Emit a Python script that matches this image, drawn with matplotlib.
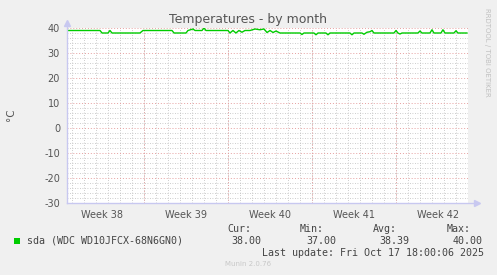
import matplotlib
matplotlib.use("Agg")
import matplotlib.pyplot as plt
import numpy as np

W, H = 497, 275

# ---- data (days since start of graph, temperature in °C) ----
days = [0, 2.75, 2.92, 3.42, 3.58, 3.75, 6.08, 6.33, 8.75, 8.92, 9.92, 10.08, 10.5, 10.67,
        11.25, 11.42, 11.58, 13.42, 13.58, 13.83, 14.08, 14.33, 14.58, 14.83, 15.25, 15.67,
        16.08, 16.42, 16.67, 16.92, 17.17, 17.42, 17.75, 19.42, 19.58, 19.75, 20.58, 20.75,
        20.92, 21.58, 21.75, 21.92, 23.58, 23.75, 23.92, 24.58, 24.75, 25.0, 25.25, 25.42,
        25.58, 27.25, 27.42, 27.58, 27.75, 27.92, 29.25, 29.42, 29.58, 30.25, 30.42, 30.58,
        31.17, 31.33, 31.5, 32.25, 32.42, 32.58, 33.33]
temps = [39, 39, 38, 38, 39, 38, 38, 39, 39, 38, 38, 39, 39.6, 39,
         39, 40, 39, 39, 38, 39, 38, 39, 38.3, 39, 39, 39.6,
         39.3, 39.6, 38.2, 39, 38.2, 38.8, 38, 38, 37.4, 38, 38, 37.3,
         38, 38, 37.3, 38, 38, 37.3, 38, 38, 37.5, 38.3, 38.5, 39,
         38, 38, 39, 38, 37.6, 38, 38, 38.8, 38, 38, 39.3, 38,
         38, 39.3, 38, 38, 38.9, 38, 38]

week_boundaries = [6.42, 13.42, 20.42, 27.42]
week_centers = [2.92, 9.92, 16.92, 23.92, 30.92]
week_labels = ["Week 38", "Week 39", "Week 40", "Week 41", "Week 42"]
y_ticks = [40, 30, 20, 10, 0, -10, -20, -30]

series_label = "sda (WDC WD10JFCX-68N6GN0)"
cur, vmin, avg, vmax = "38.00", "37.00", "38.39", "40.00"
last_update = "Last update: Fri Oct 17 18:00:06 2025"

fig = plt.figure(figsize=(W / 100, H / 100), dpi=100)
fig.patch.set_facecolor("#F0F0F0")

left, right, top, bottom = 67, 468, 28, 203
ax = fig.add_axes([left / W, 1 - bottom / H, (right - left) / W, (bottom - top) / H])
ax.set_facecolor("white")
ax.set_xlim(0, 33.42)
ax.set_ylim(-30, 40)

# grid
for yv in np.arange(-30, 41, 2):
    if yv % 10 == 0:
        continue
    ax.axhline(yv, color="#bdbdbd", lw=0.6, ls=(0, (1, 2)), zorder=1)
for xv in np.arange(0.42, 33.42, 1.0):
    ax.axvline(xv, color="#bdbdbd", lw=0.6, ls=(0, (1, 2)), zorder=1)
for yv in y_ticks:
    ax.axhline(yv, color="#e6a0a0", lw=0.7, ls=(0, (1, 2)), zorder=2)
for xv in week_boundaries:
    ax.axvline(xv, color="#e6a0a0", lw=0.7, ls=(0, (1, 2)), zorder=2)

ax.plot(days, temps, color="#00CC00", lw=1.0, zorder=5)

for s in ax.spines.values():
    s.set_visible(False)
ax.plot([0, 0], [-30, 41.5], color="#c8c8f0", lw=1, clip_on=False, zorder=6)
ax.plot([0, 34.0], [-30, -30], color="#c8c8f0", lw=1, clip_on=False, zorder=6)
ax.plot([0], [42.2], marker="^", color="#c8c8f0", ms=4, clip_on=False, zorder=6)
ax.plot([34.2], [-30], marker=">", color="#c8c8f0", ms=4, clip_on=False, zorder=6)

ax.set_yticks(y_ticks)
ax.set_yticklabels([str(v) for v in y_ticks])
ax.set_xticks(week_centers)
ax.set_xticklabels(week_labels)
ax.tick_params(axis="both", length=0, labelsize=7, labelcolor="#555555")
ax.tick_params(axis="y", pad=5)
ax.tick_params(axis="x", pad=5)

def ftxt(x, y, s, **kw):
    fig.text(x / W, 1 - y / H, s, **kw)

ftxt(248, 19, "Temperatures - by month", ha="center", va="center", fontsize=9, color="#555555")
ftxt(11, 115, "°C", ha="center", va="center", rotation=90, fontsize=7.5, color="#555555")
ftxt(487, 52, "RRDTOOL / TOBI OETIKER", ha="center", va="center", rotation=-90,
     fontsize=5, color="#c0c0c0")

mono = dict(family="DejaVu Sans Mono", fontsize=7.2, color="#444444", va="center")
fig.patches.append(plt.Rectangle((14 / W, 1 - 243.5 / H), 6 / W, 6 / H, transform=fig.transFigure,
                                 facecolor="#00CC00", edgecolor="none"))
ftxt(27, 240.5, series_label, ha="left", **mono)
for xh, xv, head, val in [(227, 231, "Cur:", cur), (300, 306, "Min:", vmin),
                          (373, 379, "Avg:", avg), (447, 453, "Max:", vmax)]:
    ftxt(xh, 228.5, head, ha="left", **mono)
    ftxt(xv, 240.5, val, ha="left", **mono)
ftxt(262, 252.5, last_update, ha="left", **mono)
ftxt(248, 264, "Munin 2.0.76", ha="center", va="center", fontsize=5, color="#c8c8c8")

fig.savefig("out.png", dpi=100, facecolor=fig.get_facecolor())
